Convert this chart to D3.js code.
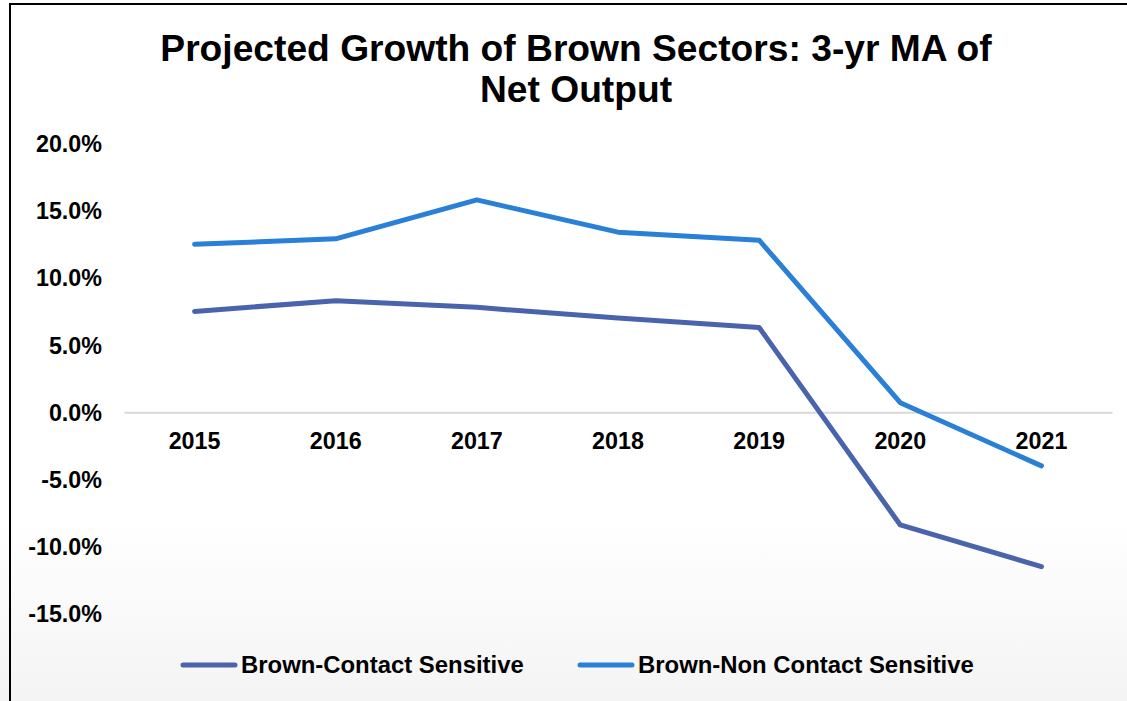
<!DOCTYPE html>
<html>
<head>
<meta charset="utf-8">
<script src="https://cdn.jsdelivr.net/npm/d3@7"></script>
<style>
  html, body { margin: 0; padding: 0; background: #fff; }
  svg { display: block; }
  text { font-family: "Liberation Sans", Arial, Helvetica, sans-serif; font-weight: bold; fill: #000; }
</style>
</head>
<body>
<svg id="chart" width="1127" height="701"></svg>
<script>
// Years on the category axis
const years = ["2015", "2016", "2017", "2018", "2019", "2020", "2021"];
// 3-year moving average of net output growth, in percent
const contactSensitive = [7.5, 8.3, 7.8, 7.0, 6.3, -8.4, -11.5];
const nonContactSensitive = [12.5, 12.9, 15.8, 13.4, 12.8, 0.7, -4.0];
// Value axis ticks, in percent
const yTicks = [20, 15, 10, 5, 0, -5, -10, -15];

const seriesNames = ["Brown-Contact Sensitive", "Brown-Non Contact Sensitive"];
const seriesColors = ["#4a63ad", "#2a7fd7"];
const titleLines = ["Projected Growth of Brown Sectors: 3-yr MA of", "Net Output"];

const W = 1127, H = 701;
const svg = d3.select("#chart");

// Background: white fading to a faint grey toward the bottom
const defs = svg.append("defs");
const grad = defs.append("linearGradient")
  .attr("id", "bg").attr("x1", 0).attr("y1", 0).attr("x2", 0).attr("y2", 1);
grad.append("stop").attr("offset", "0").attr("stop-color", "#ffffff");
grad.append("stop").attr("offset", "0.74").attr("stop-color", "#ffffff");
grad.append("stop").attr("offset", "1").attr("stop-color", "#f4f4f4");
svg.append("rect").attr("width", W).attr("height", H).attr("fill", "url(#bg)");

// Chart frame (right and bottom edges run past the page)
svg.append("rect")
  .attr("x", 10).attr("y", 4).attr("width", W + 20).attr("height", H + 20)
  .attr("fill", "none").attr("stroke", "#000").attr("stroke-width", 2);

// Title
svg.append("g").selectAll("text").data(titleLines).join("text")
  .attr("x", 576).attr("y", (d, i) => 61 + i * 41)
  .attr("text-anchor", "middle")
  .style("font-size", "37.2px")
  .text(d => d);

// Scales
const x = d3.scaleBand().domain(years).range([124, 1112]);
const y = d3.scaleLinear().domain([-15, 20]).range([613.6, 143.5]);

// Value axis labels (plain hyphen for negatives)
const pct = d => d3.format(".1f")(d).replace("\u2212", "-") + "%";
const yAxis = d3.axisLeft(y).tickValues(yTicks).tickSize(0).tickPadding(0).tickFormat(pct);
const yg = svg.append("g").attr("transform", "translate(102,0)").call(yAxis);
yg.select(".domain").remove();
yg.selectAll("text").style("font-size", "23.3px").attr("font-family", null).attr("dy", "0.35em");

// Zero line with category labels beneath it
const xAxis = d3.axisBottom(x).tickSize(0).tickPadding(0);
const xg = svg.append("g").attr("transform", `translate(0,${y(0)})`).call(xAxis);
xg.select(".domain").attr("stroke", "#d9d9d9").attr("stroke-width", 2);
xg.selectAll("text").style("font-size", "23.3px").attr("font-family", null)
  .attr("y", 37).attr("dy", 0);

// Series lines
const line = d3.line()
  .x((d, i) => x(years[i]) + x.bandwidth() / 2)
  .y(d => y(d));
[contactSensitive, nonContactSensitive].forEach((vals, k) => {
  svg.append("path").datum(vals)
    .attr("d", line)
    .attr("fill", "none")
    .attr("stroke", seriesColors[k])
    .attr("stroke-width", 5)
    .attr("stroke-linejoin", "round")
    .attr("stroke-linecap", "round");
});

// Legend
const legendX = [183, 580];
const lg = svg.append("g");
seriesNames.forEach((name, k) => {
  lg.append("line")
    .attr("x1", legendX[k]).attr("x2", legendX[k] + 52)
    .attr("y1", 665).attr("y2", 665)
    .attr("stroke", seriesColors[k]).attr("stroke-width", 5)
    .attr("stroke-linecap", "round");
  lg.append("text")
    .attr("x", legendX[k] + 58).attr("y", 673)
    .style("font-size", "23.9px")
    .text(name);
});
</script>
</body>
</html>
